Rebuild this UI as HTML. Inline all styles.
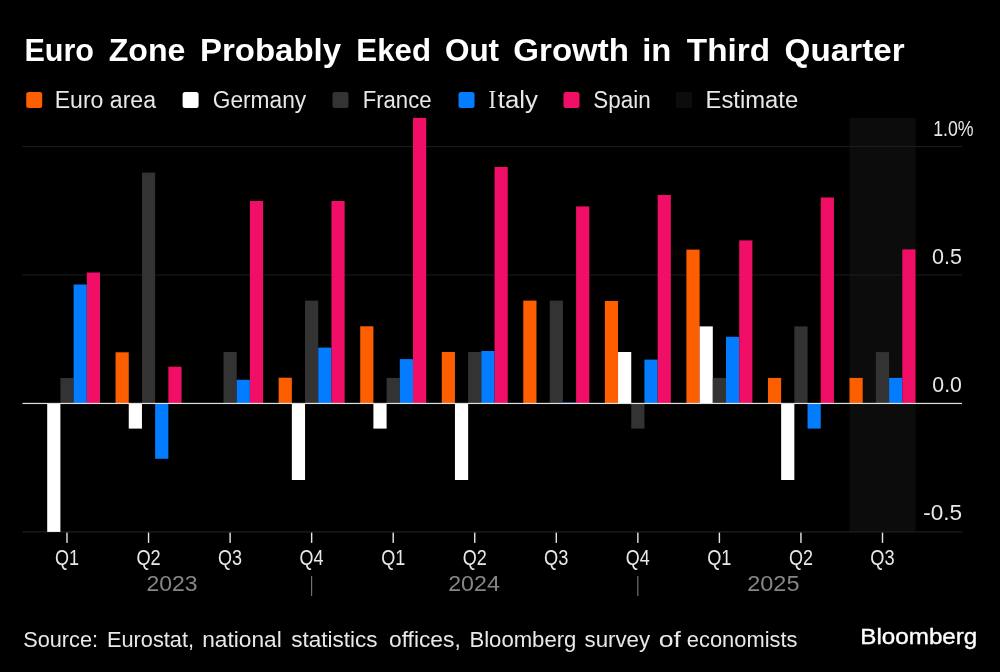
<!DOCTYPE html>
<html><head><meta charset="utf-8"><style>
html,body{margin:0;padding:0;background:#000;}
body{width:1000px;height:672px;overflow:hidden;}
svg{display:block;font-family:"Liberation Sans",sans-serif;will-change:transform;}
</style></head><body>
<svg width="1000" height="672" viewBox="0 0 1000 672">
<rect width="1000" height="672" fill="#000"/>
<rect x="849.50" y="118" width="66.00" height="413.30" fill="#0c0c0c"/>
<rect x="22.5" y="146.10" width="939.5" height="1" fill="#1e1e1e"/>
<rect x="22.5" y="274.45" width="939.5" height="1" fill="#1e1e1e"/>
<rect x="22.5" y="531.4" width="939.5" height="1" fill="#262626"/>
<rect x="47.20" y="403.30" width="13.20" height="128.60" fill="#ffffff"/>
<rect x="60.40" y="378.00" width="13.20" height="25.30" fill="#333333"/>
<rect x="73.60" y="284.50" width="13.20" height="118.80" fill="#047cff"/>
<rect x="86.80" y="272.50" width="13.20" height="130.80" fill="#f00e66"/>
<rect x="115.55" y="352.30" width="13.20" height="51.00" fill="#fc5e00"/>
<rect x="128.75" y="403.30" width="13.20" height="25.30" fill="#ffffff"/>
<rect x="141.95" y="172.60" width="13.20" height="230.70" fill="#333333"/>
<rect x="155.15" y="403.30" width="13.20" height="55.50" fill="#047cff"/>
<rect x="168.35" y="366.70" width="13.20" height="36.60" fill="#f00e66"/>
<rect x="223.50" y="352.00" width="13.20" height="51.30" fill="#333333"/>
<rect x="236.70" y="379.80" width="13.20" height="23.50" fill="#047cff"/>
<rect x="249.90" y="201.00" width="13.20" height="202.30" fill="#f00e66"/>
<rect x="278.65" y="377.70" width="13.20" height="25.60" fill="#fc5e00"/>
<rect x="291.85" y="403.30" width="13.20" height="76.70" fill="#ffffff"/>
<rect x="305.05" y="300.60" width="13.20" height="102.70" fill="#333333"/>
<rect x="318.25" y="347.60" width="13.20" height="55.70" fill="#047cff"/>
<rect x="331.45" y="201.00" width="13.20" height="202.30" fill="#f00e66"/>
<rect x="360.20" y="326.30" width="13.20" height="77.00" fill="#fc5e00"/>
<rect x="373.40" y="403.30" width="13.20" height="25.30" fill="#ffffff"/>
<rect x="386.60" y="377.90" width="13.20" height="25.40" fill="#333333"/>
<rect x="399.80" y="359.10" width="13.20" height="44.20" fill="#047cff"/>
<rect x="413.00" y="117.90" width="13.20" height="285.40" fill="#f00e66"/>
<rect x="441.75" y="352.00" width="13.20" height="51.30" fill="#fc5e00"/>
<rect x="454.95" y="403.30" width="13.20" height="76.70" fill="#ffffff"/>
<rect x="468.15" y="352.00" width="13.20" height="51.30" fill="#333333"/>
<rect x="481.35" y="351.00" width="13.20" height="52.30" fill="#047cff"/>
<rect x="494.55" y="167.00" width="13.20" height="236.30" fill="#f00e66"/>
<rect x="523.30" y="300.60" width="13.20" height="102.70" fill="#fc5e00"/>
<rect x="549.70" y="300.60" width="13.20" height="102.70" fill="#333333"/>
<rect x="562.90" y="402.50" width="13.20" height="0.80" fill="#047cff"/>
<rect x="576.10" y="206.40" width="13.20" height="196.90" fill="#f00e66"/>
<rect x="604.85" y="301.00" width="13.20" height="102.30" fill="#fc5e00"/>
<rect x="618.05" y="352.00" width="13.20" height="51.30" fill="#ffffff"/>
<rect x="631.25" y="403.30" width="13.20" height="25.30" fill="#333333"/>
<rect x="644.45" y="359.60" width="13.20" height="43.70" fill="#047cff"/>
<rect x="657.65" y="195.00" width="13.20" height="208.30" fill="#f00e66"/>
<rect x="686.40" y="249.60" width="13.20" height="153.70" fill="#fc5e00"/>
<rect x="699.60" y="326.40" width="13.20" height="76.90" fill="#ffffff"/>
<rect x="712.80" y="377.90" width="13.20" height="25.40" fill="#333333"/>
<rect x="726.00" y="336.80" width="13.20" height="66.50" fill="#047cff"/>
<rect x="739.20" y="240.40" width="13.20" height="162.90" fill="#f00e66"/>
<rect x="767.95" y="377.90" width="13.20" height="25.40" fill="#fc5e00"/>
<rect x="781.15" y="403.30" width="13.20" height="76.70" fill="#ffffff"/>
<rect x="794.35" y="326.40" width="13.20" height="76.90" fill="#333333"/>
<rect x="807.55" y="403.30" width="13.20" height="25.30" fill="#047cff"/>
<rect x="820.75" y="197.50" width="13.20" height="205.80" fill="#f00e66"/>
<rect x="849.50" y="377.90" width="13.20" height="25.40" fill="#fc5e00"/>
<rect x="875.90" y="352.10" width="13.20" height="51.20" fill="#333333"/>
<rect x="889.10" y="377.90" width="13.20" height="25.40" fill="#047cff"/>
<rect x="902.30" y="249.40" width="13.20" height="153.90" fill="#f00e66"/>
<rect x="22.5" y="402.85" width="939.5" height="1.2" fill="#e0e0e0"/>
<rect x="66.30" y="532.6" width="1.4" height="10.3" fill="#e6e6e6"/>
<rect x="147.85" y="532.6" width="1.4" height="10.3" fill="#e6e6e6"/>
<rect x="229.40" y="532.6" width="1.4" height="10.3" fill="#e6e6e6"/>
<rect x="310.95" y="532.6" width="1.4" height="10.3" fill="#e6e6e6"/>
<rect x="392.50" y="532.6" width="1.4" height="10.3" fill="#e6e6e6"/>
<rect x="474.05" y="532.6" width="1.4" height="10.3" fill="#e6e6e6"/>
<rect x="555.60" y="532.6" width="1.4" height="10.3" fill="#e6e6e6"/>
<rect x="637.15" y="532.6" width="1.4" height="10.3" fill="#e6e6e6"/>
<rect x="718.70" y="532.6" width="1.4" height="10.3" fill="#e6e6e6"/>
<rect x="800.25" y="532.6" width="1.4" height="10.3" fill="#e6e6e6"/>
<rect x="881.80" y="532.6" width="1.4" height="10.3" fill="#e6e6e6"/>
<rect x="311.15" y="576" width="1" height="20" fill="#868686"/>
<rect x="637.35" y="576" width="1" height="20" fill="#868686"/>
<rect x="26.20" y="92" width="16" height="16" rx="2.5" fill="#fc5e00"/>
<rect x="182.60" y="92" width="16" height="16" rx="2.5" fill="#ffffff"/>
<rect x="332.50" y="92" width="16" height="16" rx="2.5" fill="#333333"/>
<rect x="458.50" y="92" width="16" height="16" rx="2.5" fill="#047cff"/>
<rect x="563.50" y="92" width="16" height="16" rx="2.5" fill="#f00e66"/>
<rect x="676.00" y="92" width="16" height="16" rx="2.5" fill="#0c0c0c"/>
<text x="24.38" y="61.20" font-size="31" font-weight="bold" fill="#ffffff" textLength="69.65" lengthAdjust="spacingAndGlyphs">Euro</text>
<text x="108.72" y="61.20" font-size="31" font-weight="bold" fill="#ffffff" textLength="76.72" lengthAdjust="spacingAndGlyphs">Zone</text>
<text x="199.92" y="61.20" font-size="31" font-weight="bold" fill="#ffffff" textLength="141.23" lengthAdjust="spacingAndGlyphs">Probably</text>
<text x="356.36" y="61.20" font-size="31" font-weight="bold" fill="#ffffff" textLength="74.64" lengthAdjust="spacingAndGlyphs">Eked</text>
<text x="444.90" y="61.20" font-size="31" font-weight="bold" fill="#ffffff" textLength="54.20" lengthAdjust="spacingAndGlyphs">Out</text>
<text x="513.30" y="61.20" font-size="31" font-weight="bold" fill="#ffffff" textLength="115.75" lengthAdjust="spacingAndGlyphs">Growth</text>
<text x="642.25" y="61.20" font-size="31" font-weight="bold" fill="#ffffff" textLength="29.16" lengthAdjust="spacingAndGlyphs">in</text>
<text x="686.80" y="61.20" font-size="31" font-weight="bold" fill="#ffffff" textLength="83.27" lengthAdjust="spacingAndGlyphs">Third</text>
<text x="784.60" y="61.20" font-size="31" font-weight="bold" fill="#ffffff" textLength="120.01" lengthAdjust="spacingAndGlyphs">Quarter</text>
<text x="54.70" y="107.60" font-size="23.5" font-weight="normal" fill="#e8e8e8" textLength="101.30" lengthAdjust="spacingAndGlyphs">Euro area</text>
<text x="212.75" y="107.60" font-size="23.5" font-weight="normal" fill="#e8e8e8" textLength="93.40" lengthAdjust="spacingAndGlyphs">Germany</text>
<text x="362.63" y="107.60" font-size="23.5" font-weight="normal" fill="#e8e8e8" textLength="68.92" lengthAdjust="spacingAndGlyphs">France</text>
<text x="488.60" y="107.70" font-size="25.5" font-weight="normal" fill="#e8e8e8" textLength="7.66" lengthAdjust="spacingAndGlyphs" font-family="Liberation Serif">I</text>
<text x="497.80" y="107.60" font-size="23.5" font-weight="normal" fill="#e8e8e8" textLength="40.23" lengthAdjust="spacingAndGlyphs">taly</text>
<text x="593.37" y="107.60" font-size="23.5" font-weight="normal" fill="#e8e8e8" textLength="57.30" lengthAdjust="spacingAndGlyphs">Spain</text>
<text x="705.57" y="107.60" font-size="23.5" font-weight="normal" fill="#e8e8e8" textLength="92.68" lengthAdjust="spacingAndGlyphs">Estimate</text>
<text x="933.18" y="135.70" font-size="22.5" font-weight="normal" fill="#e8e8e8" textLength="40.47" lengthAdjust="spacingAndGlyphs">1.0%</text>
<text x="932.10" y="263.70" font-size="22.5" font-weight="normal" fill="#e8e8e8" textLength="29.93" lengthAdjust="spacingAndGlyphs">0.5</text>
<text x="932.35" y="392.20" font-size="22.5" font-weight="normal" fill="#e8e8e8" textLength="29.58" lengthAdjust="spacingAndGlyphs">0.0</text>
<text x="923.19" y="520.40" font-size="22.5" font-weight="normal" fill="#e8e8e8" textLength="38.89" lengthAdjust="spacingAndGlyphs">-0.5</text>
<text x="54.95" y="564.60" font-size="22" font-weight="normal" fill="#e8e8e8" textLength="24.02" lengthAdjust="spacingAndGlyphs">Q1</text>
<text x="136.43" y="564.60" font-size="22" font-weight="normal" fill="#e8e8e8" textLength="24.28" lengthAdjust="spacingAndGlyphs">Q2</text>
<text x="218.10" y="564.60" font-size="22" font-weight="normal" fill="#e8e8e8" textLength="24.00" lengthAdjust="spacingAndGlyphs">Q3</text>
<text x="299.57" y="564.60" font-size="22" font-weight="normal" fill="#e8e8e8" textLength="23.93" lengthAdjust="spacingAndGlyphs">Q4</text>
<text x="381.25" y="564.60" font-size="22" font-weight="normal" fill="#e8e8e8" textLength="24.02" lengthAdjust="spacingAndGlyphs">Q1</text>
<text x="462.68" y="564.60" font-size="22" font-weight="normal" fill="#e8e8e8" textLength="24.03" lengthAdjust="spacingAndGlyphs">Q2</text>
<text x="544.05" y="564.60" font-size="22" font-weight="normal" fill="#e8e8e8" textLength="24.28" lengthAdjust="spacingAndGlyphs">Q3</text>
<text x="625.83" y="564.60" font-size="22" font-weight="normal" fill="#e8e8e8" textLength="23.87" lengthAdjust="spacingAndGlyphs">Q4</text>
<text x="707.20" y="564.60" font-size="22" font-weight="normal" fill="#e8e8e8" textLength="24.28" lengthAdjust="spacingAndGlyphs">Q1</text>
<text x="788.98" y="564.60" font-size="22" font-weight="normal" fill="#e8e8e8" textLength="24.03" lengthAdjust="spacingAndGlyphs">Q2</text>
<text x="870.35" y="564.60" font-size="22" font-weight="normal" fill="#e8e8e8" textLength="24.28" lengthAdjust="spacingAndGlyphs">Q3</text>
<text x="146.44" y="591.30" font-size="22.2" font-weight="normal" fill="#868686" textLength="51.10" lengthAdjust="spacingAndGlyphs">2023</text>
<text x="448.20" y="591.30" font-size="22.2" font-weight="normal" fill="#868686" textLength="51.69" lengthAdjust="spacingAndGlyphs">2024</text>
<text x="747.20" y="591.30" font-size="22.2" font-weight="normal" fill="#868686" textLength="52.30" lengthAdjust="spacingAndGlyphs">2025</text>
<text x="23.18" y="647.40" font-size="21.5" font-weight="normal" fill="#e8e8e8" textLength="74.87" lengthAdjust="spacingAndGlyphs">Source:</text>
<text x="106.98" y="647.40" font-size="21.5" font-weight="normal" fill="#e8e8e8" textLength="87.06" lengthAdjust="spacingAndGlyphs">Eurostat,</text>
<text x="202.28" y="647.40" font-size="21.5" font-weight="normal" fill="#e8e8e8" textLength="79.42" lengthAdjust="spacingAndGlyphs">national</text>
<text x="291.20" y="647.40" font-size="21.5" font-weight="normal" fill="#e8e8e8" textLength="86.28" lengthAdjust="spacingAndGlyphs">statistics</text>
<text x="389.03" y="647.40" font-size="21.5" font-weight="normal" fill="#e8e8e8" textLength="71.72" lengthAdjust="spacingAndGlyphs">offices,</text>
<text x="469.43" y="647.40" font-size="21.5" font-weight="normal" fill="#e8e8e8" textLength="106.99" lengthAdjust="spacingAndGlyphs">Bloomberg</text>
<text x="584.50" y="647.40" font-size="21.5" font-weight="normal" fill="#e8e8e8" textLength="65.59" lengthAdjust="spacingAndGlyphs">survey</text>
<text x="658.75" y="647.40" font-size="21.5" font-weight="normal" fill="#e8e8e8" textLength="22.25" lengthAdjust="spacingAndGlyphs">of</text>
<text x="686.89" y="647.40" font-size="21.5" font-weight="normal" fill="#e8e8e8" textLength="110.56" lengthAdjust="spacingAndGlyphs">economists</text>
<text x="860.30" y="644.20" font-size="22.3" font-weight="normal" fill="#ffffff" textLength="117.04" lengthAdjust="spacingAndGlyphs" stroke="#ffffff" stroke-width="0.35">Bloomberg</text>
</svg>
</body></html>
